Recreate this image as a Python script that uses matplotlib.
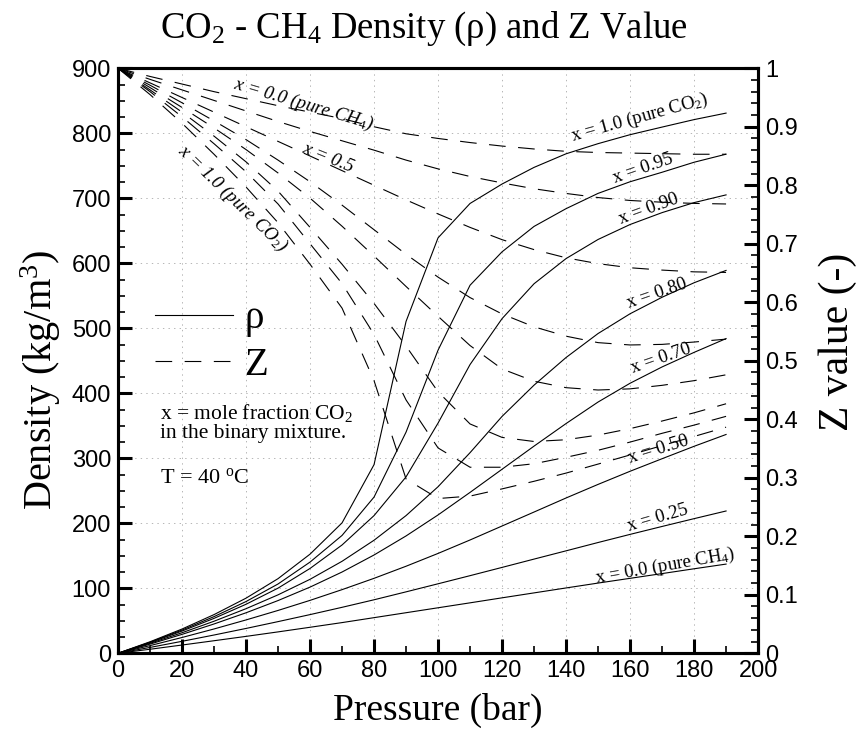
import matplotlib
matplotlib.use('Agg')
import matplotlib.pyplot as plt
from matplotlib.lines import Line2D
from matplotlib.ticker import MultipleLocator, FuncFormatter

plt.rcParams['font.family'] = ['Liberation Sans', 'DejaVu Sans']
plt.rcParams['mathtext.fontset'] = 'custom'
plt.rcParams['mathtext.rm'] = 'Liberation Serif'
plt.rcParams['mathtext.it'] = 'Liberation Serif:italic'
plt.rcParams['lines.scale_dashes'] = False

SERIF = ['Liberation Serif', 'DejaVu Serif']

# pressure in bar
pressure = [0, 10, 20, 30, 40, 50, 60, 70, 80, 90,
            100, 110, 120, 130, 140, 150, 160, 170, 180, 190]

# density (kg/m3), x = mole fraction CO2
rho_000 = [0, 6.2, 12.7, 19.3, 26.0, 32.9, 40.0, 47.2, 54.8, 62.4,
           70.0, 77.6, 85.3, 92.9, 100.5, 108.0, 115.3, 122.6, 130.0, 137.2]
rho_025 = [0, 9.0, 18.4, 28.1, 38.2, 48.7, 59.5, 70.7, 82.3, 94.5,
           106.9, 119.4, 132.1, 144.9, 157.6, 170.4, 182.9, 195.1, 207.1, 218.9]
rho_050 = [0, 11.8, 24.3, 37.4, 51.3, 65.9, 81.4, 97.9, 115.3, 133.9,
           153.6, 174.3, 195.8, 217.3, 238.9, 259.8, 280.0, 299.3, 318.4, 336.6]
rho_070 = [0, 14.1, 29.1, 45.1, 62.3, 81.1, 101.8, 125.0, 151.2, 180.5,
           212.8, 247.5, 283.1, 318.7, 353.4, 386.5, 415.4, 440.5, 462.9, 484.1]
rho_080 = [0, 15.3, 31.6, 49.3, 68.6, 89.9, 113.8, 141.5, 173.9, 211.8,
           256.2, 308.6, 364.4, 412.5, 455.0, 491.9, 522.3, 547.7, 570.0, 589.0]
rho_090 = [0, 16.4, 34.2, 53.7, 75.4, 100.2, 130.5, 166.6, 211.8, 271.4,
           354.1, 444.2, 514.8, 568.5, 607.2, 636.6, 659.6, 677.9, 693.3, 705.2]
rho_095 = [0, 17.0, 35.7, 56.4, 79.6, 106.6, 140.3, 181.3, 240.3, 340.2,
           466.3, 566.2, 617.6, 656.7, 684.0, 707.5, 725.4, 740.0, 755.4, 767.8]
rho_100 = [0, 17.7, 37.3, 59.5, 84.8, 114.8, 152.5, 200.6, 290.2, 510.5,
           639.1, 692.0, 721.9, 747.5, 768.4, 784.0, 797.8, 809.5, 821.0, 831.0]

# compressibility factor Z
z_000 = [1.0, 0.986, 0.973, 0.960, 0.948, 0.936, 0.925, 0.914, 0.900, 0.888,
         0.880, 0.873, 0.867, 0.862, 0.858, 0.856, 0.855, 0.854, 0.853, 0.853]
z_025 = [1.0, 0.981, 0.963, 0.945, 0.927, 0.909, 0.892, 0.876, 0.860, 0.843,
         0.828, 0.815, 0.804, 0.794, 0.786, 0.779, 0.774, 0.771, 0.769, 0.768]
z_050 = [1.0, 0.975, 0.950, 0.925, 0.900, 0.875, 0.850, 0.825, 0.800, 0.775,
         0.751, 0.728, 0.707, 0.690, 0.676, 0.666, 0.659, 0.655, 0.652, 0.651]
z_070 = [1.0, 0.971, 0.941, 0.910, 0.878, 0.843, 0.806, 0.766, 0.724, 0.682,
         0.643, 0.608, 0.580, 0.558, 0.542, 0.531, 0.527, 0.528, 0.532, 0.537]
z_080 = [1.0, 0.967, 0.933, 0.898, 0.861, 0.821, 0.778, 0.730, 0.679, 0.627,
         0.576, 0.526, 0.486, 0.465, 0.454, 0.450, 0.452, 0.458, 0.466, 0.476]
z_090 = [1.0, 0.963, 0.925, 0.884, 0.840, 0.790, 0.728, 0.665, 0.598, 0.525,
         0.447, 0.392, 0.369, 0.362, 0.365, 0.373, 0.384, 0.397, 0.411, 0.4265]
z_095 = [1.0, 0.960, 0.917, 0.871, 0.823, 0.768, 0.700, 0.632, 0.545, 0.433,
         0.351, 0.318, 0.318, 0.324, 0.335, 0.347, 0.361, 0.376, 0.390, 0.405]
z_100 = [1.0, 0.955, 0.906, 0.853, 0.797, 0.736, 0.665, 0.590, 0.466, 0.298,
         0.2645, 0.2687, 0.281, 0.294, 0.308, 0.3234, 0.339, 0.355, 0.3706, 0.3865]

densities = [rho_000, rho_025, rho_050, rho_070, rho_080, rho_090, rho_095, rho_100]
z_values = [z_000, z_025, z_050, z_070, z_080, z_090, z_095, z_100]

LW = 0.8
DASH = (12, 9)

fig = plt.figure(figsize=(8.59, 7.30), dpi=100)
ax = fig.add_axes([0.1374, 0.1051, 0.7451, 0.8014])
ax2 = ax.twinx()

for rho in densities:
    ax.plot(pressure, rho, color='black', lw=LW)
for z in z_values:
    ax2.plot(pressure, z, color='black', lw=LW, dashes=DASH)

ax.set_xlim(0, 200)
ax.set_ylim(0, 900)
ax2.set_ylim(0, 1)

ax.xaxis.set_major_locator(MultipleLocator(20))
ax.xaxis.set_minor_locator(MultipleLocator(10))
ax.yaxis.set_major_locator(MultipleLocator(100))
ax.yaxis.set_minor_locator(MultipleLocator(25))
ax2.yaxis.set_major_locator(MultipleLocator(0.1))
ax2.yaxis.set_minor_locator(MultipleLocator(0.02))
ax2.yaxis.set_major_formatter(FuncFormatter(
    lambda v, p: '0' if abs(v) < 1e-9 else ('1' if abs(v - 1) < 1e-9 else '%.1f' % v)))

ax.grid(True, which='major', linestyle=(0, (1, 3)), color='#aaaaaa', linewidth=0.6)

for a in (ax, ax2):
    for s in a.spines.values():
        s.set_linewidth(2.2)
ax.tick_params(which='major', direction='in', length=10, width=2.2, labelsize=17,
               top=False, right=False, pad=5)
ax.tick_params(which='minor', direction='in', length=5, width=1.2, top=False, right=False)
ax2.tick_params(which='major', direction='in', length=10, width=2.2, labelsize=17, pad=5)
ax2.tick_params(which='minor', direction='in', length=5, width=1.2)

ax.set_xlabel('Pressure (bar)', fontsize=27, family=SERIF)
ax.xaxis.set_label_coords(0.5, -0.068)
ax.set_ylabel('Density (kg/m$^\\mathrm{3}$)', fontsize=29, family=SERIF)
ax.yaxis.set_label_coords(-0.086, 0.467)
ax2.set_ylabel('Z value (-)', fontsize=30, family=SERIF)
ax2.yaxis.set_label_coords(1.094, 0.532)

fig.text(0.4936, 0.961, 'CO$_\\mathrm{2}$ - CH$_\\mathrm{4}$ Density (\u03c1) and Z Value',
         ha='center', va='center', fontsize=26.5, family=SERIF)

# density curve labels
dens_labels = [
    ('x = 1.0 (pure CO$_\\mathrm{2}$)', 163.1, 824, 15.5),
    ('x = 0.95', 164.0, 746, 19),
    ('x = 0.90', 166.0, 683, 20),
    ('x = 0.80', 168.4, 554, 19),
    ('x = 0.70', 169.7, 453, 19),
    ('x = 0.50', 169.0, 313, 17),
    ('x = 0.25', 168.8, 208, 16),
    ('x = 0.0 (pure CH$_\\mathrm{4}$)', 171.0, 134, 10),
]
for txt, px, py, rot in dens_labels:
    ax.text(px, py, txt, fontsize=13.5, family=SERIF, rotation=rot,
            rotation_mode='anchor', ha='center', va='center')

# Z curve labels
z_labels = [
    ('x = 0.0 (pure CH$_\\mathrm{4}$)', 57.8, 845, -16.5),
    ('x = 0.5', 65.6, 762, -22),
    ('x = 1.0 (pure CO$_\\mathrm{2}$)', 35.6, 700, -44),
]
for txt, px, py, rot in z_labels:
    ax.text(px, py, txt, fontsize=13.5, family=SERIF, style='italic', rotation=rot,
            rotation_mode='anchor', ha='center', va='center')

handles = [Line2D([], [], color='black', lw=LW),
           Line2D([], [], color='black', lw=LW, dashes=DASH)]
leg = ax.legend(handles, ['\u03c1', 'Z'], loc='center left', bbox_to_anchor=(0.058, 0.532),
                frameon=False, handlelength=2.0, handletextpad=0.3, labelspacing=0.25,
                borderpad=0, borderaxespad=0, prop={'family': SERIF, 'size': 28})

ax.text(13.1, 355, 'x = mole fraction CO$_\\mathrm{2}$\nin the binary mixture.',
        fontsize=15.5, family=SERIF, ha='left', va='center', linespacing=0.95)
ax.text(13.1, 270, 'T = 40 $^\\mathrm{o}$C', fontsize=16, family=SERIF, ha='left', va='center')

fig.savefig('out.png', dpi=100)
